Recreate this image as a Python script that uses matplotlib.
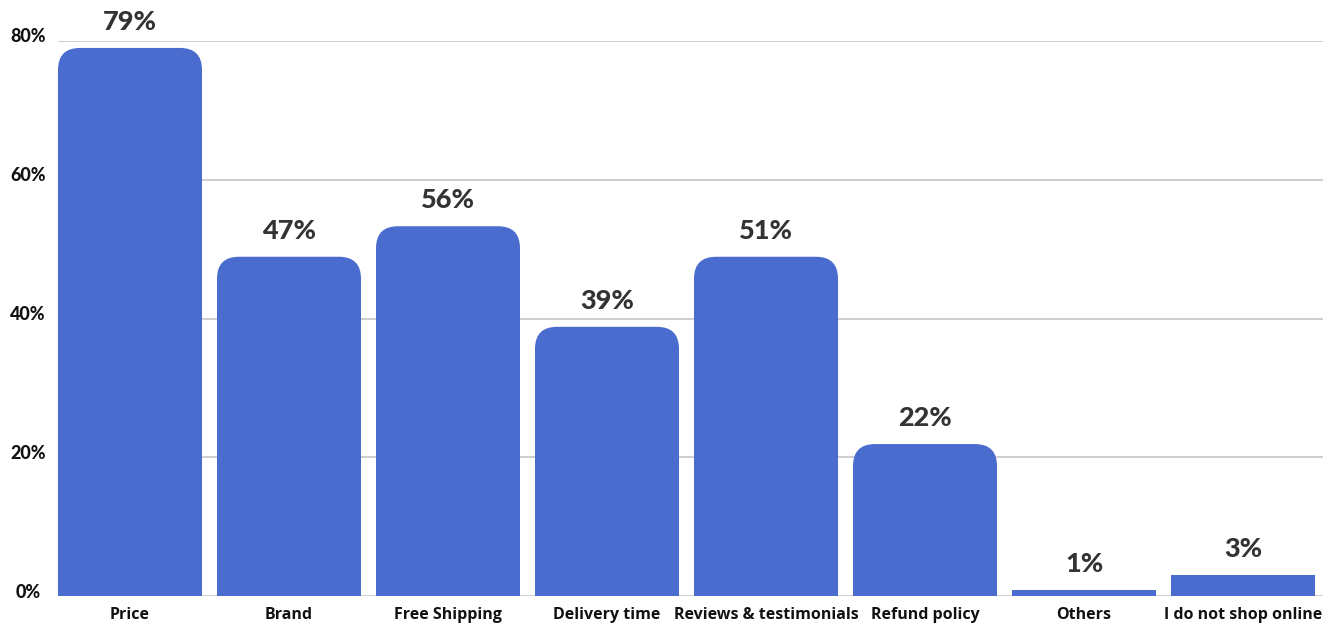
import matplotlib
matplotlib.use("Agg")
import matplotlib.pyplot as plt
from matplotlib.patches import FancyBboxPatch, Rectangle

categories = ["Price", "Brand", "Free Shipping", "Delivery time",
              "Reviews & testimonials", "Refund policy", "Others",
              "I do not shop online"]
bar_values = [79.0, 48.9, 53.3, 38.8, 48.9, 21.9, 0.9, 3.0]
value_labels = ["79%", "47%", "56%", "39%", "51%", "22%", "1%", "3%"]
yticks = [0, 20, 40, 60, 80]
ytick_labels = ["0%", "20%", "40%", "60%", "80%"]

BAR_COLOR = "#4A6CCF"
W, H = 1338, 625
fig = plt.figure(figsize=(W / 100, H / 100), dpi=100)
ax = fig.add_axes([58 / W, 29 / H, 1265 / W, 555 / H])

ax.set_xlim(-72 / 159, 7 + 80 / 159)
ax.set_ylim(0, 80)

bw = 144 / 159
rx = 22 / 159              # corner radius in x data units
ry = 22 / (555 / 80)       # corner radius in y data units
for i, h in enumerate(bar_values):
    x0 = i - bw / 2
    if h > 2 * ry:
        p = FancyBboxPatch((x0, 0), bw, h,
                           boxstyle=f"round,pad=0,rounding_size={rx}",
                           mutation_aspect=ry / rx,
                           fc=BAR_COLOR, ec="none", lw=0, zorder=3)
        ax.add_patch(p)
    ax.add_patch(Rectangle((x0, 0), bw, min(h, 10.7), fc=BAR_COLOR,
                           ec="none", lw=0, zorder=3))
    ax.annotate(value_labels[i], (i, h), xytext=(0, 10),
                textcoords="offset points", ha="center", va="bottom",
                fontsize=19.5, fontweight="black", family="Lato",
                color="#333333", annotation_clip=False)

for y in yticks:
    ax.axhline(y, color="#C6C6C6", lw=1.2, zorder=1)

for s in ax.spines.values():
    s.set_visible(False)

ax.set_yticks([])
for y, lab in zip(yticks, ytick_labels):
    ax.text(28 / W, ax.transData.transform((0, y))[1] / H + 4 / H, lab,
            transform=fig.transFigure, ha="center", va="center",
            fontsize=13, fontweight="black", family="Lato", color="#111111")

ax.set_xticks(range(len(categories)))
ax.set_xticklabels(categories, fontsize=11.5, fontweight="bold",
                   family="Open Sans", color="#111111")
ax.tick_params(axis="x", length=0, pad=8)

fig.savefig("out.png", dpi=100)
